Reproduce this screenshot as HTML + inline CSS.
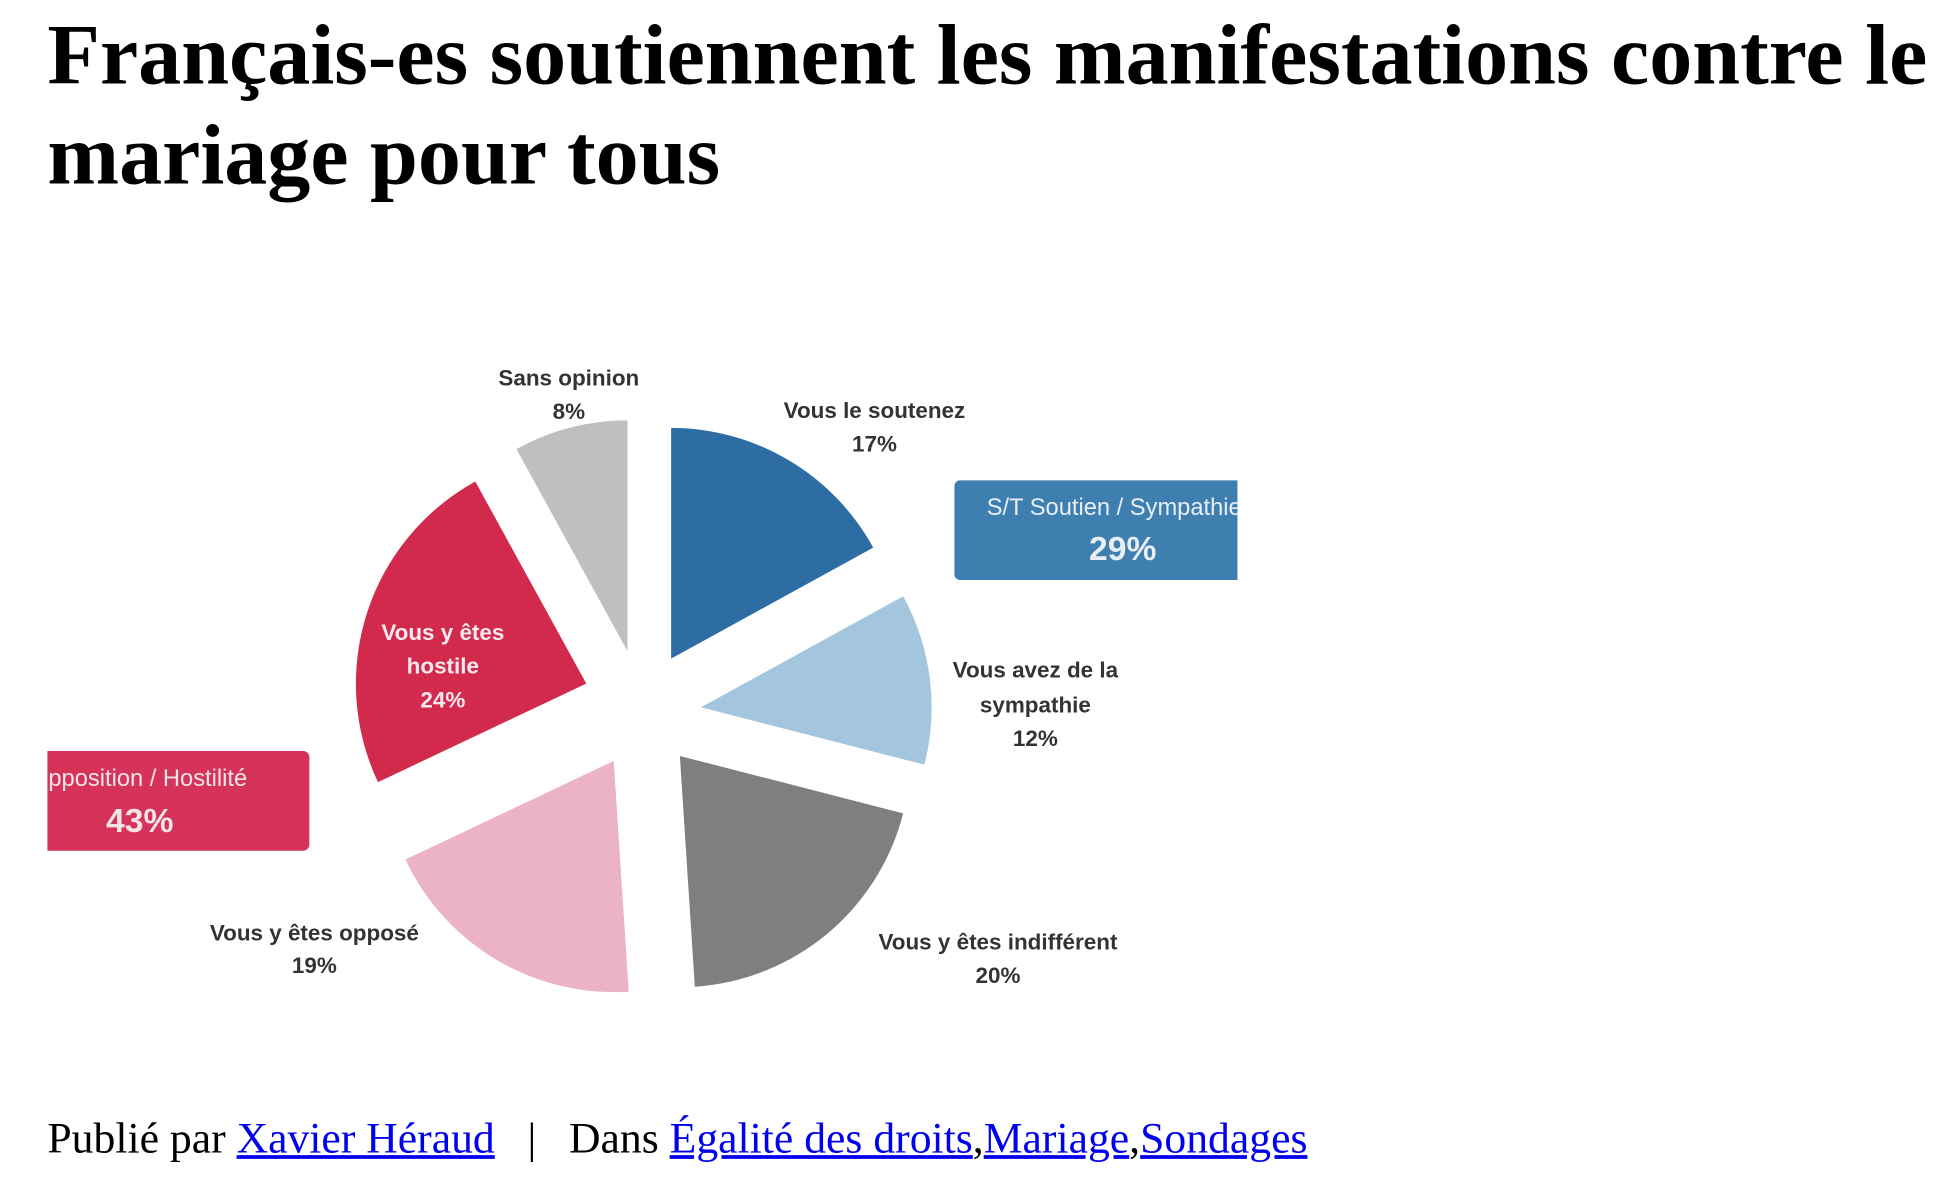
<!DOCTYPE html>
<html><head><meta charset="utf-8"><style>
html,body{margin:0;padding:0;background:#fff;}
#wrap{width:1560px;height:946px;transform:scale(1.24744);transform-origin:0 0;position:relative;overflow:hidden;}
h1{position:absolute;left:38px;top:4px;margin:0;font:bold 69px/80px "Liberation Serif",serif;color:#000;width:1530px;white-space:nowrap;}
#foot{position:absolute;left:38px;top:893px;font:35px "Liberation Serif",serif;color:#000;white-space:nowrap;}
#foot a{color:#0000ee;text-decoration:underline;}
svg{position:absolute;left:0;top:0;}
</style></head><body><div id="wrap">
<h1>Français-es soutiennent les manifestations contre le<br>mariage pour tous</h1>
<svg width="1560" height="946" viewBox="0 0 1560 946">
<defs><clipPath id="cb"><rect x="765" y="385" width="227" height="80"/></clipPath>
<clipPath id="cr"><rect x="38" y="602" width="212" height="82"/></clipPath></defs>
<path d="M538,528 L538,343 A185,185 0 0 1 700,439 Z" fill="#2E6DA4"/>
<path d="M562,567 L724,478 A185,185 0 0 1 741,613 Z" fill="#A3C6DE"/>
<path d="M545,606 L724,652 A185,185 0 0 1 557,791 Z" fill="#7F7F7F"/>
<path d="M492,610 L504,795 A185,185 0 0 1 325,689 Z" fill="#EBB3C5"/>
<path d="M470,548 L303,627 A185,185 0 0 1 381,386 Z" fill="#D22A4C"/>
<path d="M503,522 L414,360 A185,185 0 0 1 503,337 Z" fill="#BFBFBF"/>
<rect x="765" y="385" width="240" height="80" rx="5" fill="#3F7FB0" clip-path="url(#cb)"/>
<g clip-path="url(#cb)" fill="#e8eef4" font-family="Liberation Sans,sans-serif">
<text x="791" y="413" font-size="19">S/T Soutien / Sympathie</text>
<text x="900" y="449" font-size="27" font-weight="bold" text-anchor="middle">29%</text></g>
<rect x="20" y="602" width="228" height="80" rx="5" fill="#D6335A" clip-path="url(#cr)"/>
<g clip-path="url(#cr)" fill="#f4e4e8" font-family="Liberation Sans,sans-serif">
<text x="24" y="630" font-size="19">Opposition / Hostilité</text>
<text x="85" y="667" font-size="27" font-weight="bold">43%</text></g>
<g font-family="Liberation Sans,sans-serif" font-size="18" font-weight="bold" fill="#333" text-anchor="middle">
<text x="456" y="309">Sans opinion</text><text x="456" y="336">8%</text>
<text x="701" y="335">Vous le soutenez</text><text x="701" y="362">17%</text>
<text x="830" y="543">Vous avez de la</text><text x="830" y="571">sympathie</text><text x="830" y="598">12%</text>
<text x="800" y="761">Vous y êtes indifférent</text><text x="800" y="788">20%</text>
<text x="252" y="754">Vous y êtes opposé</text><text x="252" y="780">19%</text>
<g fill="#fbe9ee"><text x="355" y="513">Vous y êtes</text><text x="355" y="540">hostile</text><text x="355" y="567">24%</text></g>
</g>
</svg>
<div id="foot">Publié par <a>Xavier Héraud</a> &nbsp; | &nbsp; Dans <a>Égalité des droits</a>,<a>Mariage</a>,<a>Sondages</a></div>
</div></body></html>
